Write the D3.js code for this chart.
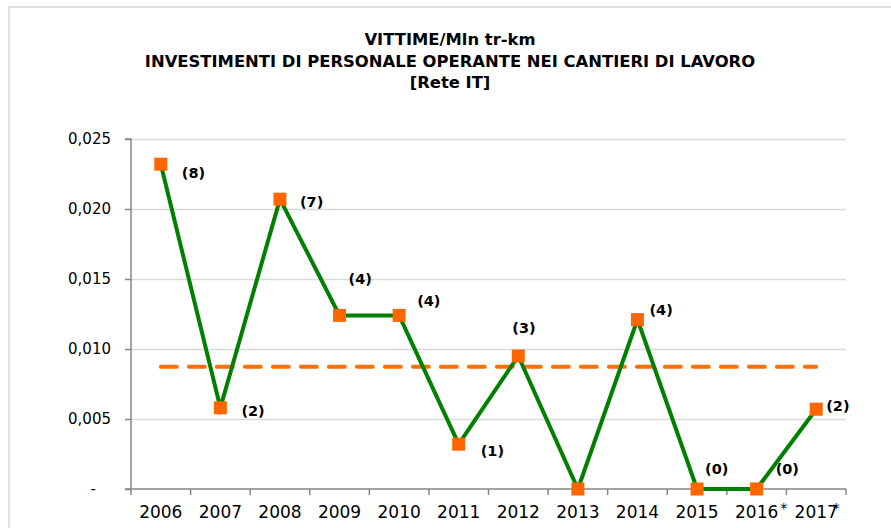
<!DOCTYPE html>
<html>
<head>
<meta charset="utf-8">
<script src="https://cdn.jsdelivr.net/npm/d3@7"></script>
<style>
  body { margin: 0; background: #fff; }
  svg { display: block; }
</style>
</head>
<body>
<div id="chart"></div>
<script>
// data
var years = ["2006", "2007", "2008", "2009", "2010", "2011", "2012", "2013", "2014", "2015", "2016", "2017"]
var starred = ["2016", "2017"]
var rates = [0.0232, 0.0058, 0.0207, 0.0124, 0.0124, 0.0032, 0.0095, 0, 0.0121, 0, 0, 0.0057]
var victims = ["(8)", "(2)", "(7)", "(4)", "(4)", "(1)", "(3)", "", "(4)", "(0)", "(0)", "(2)"]
var average = 0.00873
var yTicks = [0, 0.005, 0.010, 0.015, 0.020, 0.025]
var titleLines = ["VITTIME/Mln tr-km", "INVESTIMENTI DI PERSONALE OPERANTE NEI CANTIERI DI LAVORO", "[Rete IT]"]

// where each label sits relative to its marker
var labelOffsets = [[21, 14], [21, 8], [20, 8], [9, -31], [18, -9], [22, 12], [-6, -23], [0, 0], [12, -5], [8, -15], [19, -15], [10, 2]]

var width = 891
var height = 528
var plotLeft = 131, plotRight = 846, plotTop = 139, plotBottom = 489

var svg = d3.select("#chart")
    .append("svg")
    .attr("width", width)
    .attr("height", height)

// chart frame
svg.append("rect")
    .attr("x", 9)
    .attr("y", 7)
    .attr("width", 900)
    .attr("height", 540)
    .attr("fill", "none")
    .attr("stroke", "#d9d9d9")
    .attr("stroke-width", 1.5)

// title
svg.append("g")
    .selectAll("text")
    .data(titleLines)
    .enter()
    .append("text")
    .attr("x", 450)
    .attr("y", function(d, i) { return 45 + i * 21.5 })
    .attr("text-anchor", "middle")
    .style("font-family", "'DejaVu Sans', sans-serif")
    .style("font-weight", "bold")
    .style("font-size", "16.4px")
    .text(function(d) { return d })

var x = d3.scaleBand()
    .domain(years)
    .range([plotLeft, plotRight])
    .padding(0)

var y = d3.scaleLinear()
    .domain([0, 0.025])
    .range([plotBottom, plotTop])

function cx(year) { return x(year) + x.bandwidth() / 2 }

// gridlines
var grid = svg.append("g")
    .attr("transform", "translate(" + plotLeft + ",0)")
    .call(d3.axisLeft(y).tickValues(yTicks.slice(1)).tickSize(-(plotRight - plotLeft)).tickFormat(""))
grid.select(".domain").remove()
grid.selectAll("line").attr("stroke", "#d9d9d9").attr("stroke-width", 1.5)

// y axis
var yAxis = svg.append("g")
    .attr("transform", "translate(" + plotLeft + ",0)")
    .call(d3.axisLeft(y)
        .tickValues(yTicks)
        .tickSize(6)
        .tickPadding(14)
        .tickFormat(function(d) { return d === 0 ? "-" : d3.format(".3f")(d).replace(".", ",") }))
yAxis.select(".domain").attr("stroke", "#868686").attr("stroke-width", 1.5)
    .attr("d", "M-6," + plotTop + "H0V" + plotBottom)
yAxis.selectAll("line").attr("stroke", "#868686").attr("stroke-width", 1.5)
yAxis.selectAll("text")
    .style("font-family", "'DejaVu Sans', sans-serif")
    .style("font-size", "15px")
    .attr("fill", "#000")
yAxis.selectAll("text").filter(function(d) { return d === 0 }).attr("dx", -15)

// x axis
var xAxis = svg.append("g")
    .attr("transform", "translate(0," + plotBottom + ")")
    .call(d3.axisBottom(x).tickSize(0).tickPadding(17))
xAxis.select(".domain").attr("stroke", "#868686").attr("stroke-width", 1.5)
    .attr("d", "M" + (plotLeft - 6) + ",0H" + plotRight)
xAxis.selectAll("text")
    .style("font-family", "'DejaVu Sans', sans-serif")
    .style("font-size", "17px")
    .attr("fill", "#000")
xAxis.selectAll(".tick")
    .filter(function(d) { return starred.indexOf(d) >= 0 })
    .append("text")
    .attr("x", function(d, i) { return i === 0 ? 27 : 20 })
    .attr("y", 24)
    .attr("fill", "#000")
    .style("font-family", "'DejaVu Sans', sans-serif")
    .style("font-size", "14px")
    .text("*")

// tick marks on the category boundaries
svg.append("g")
    .selectAll("line")
    .data(years.concat(["end"]))
    .enter()
    .append("line")
    .attr("x1", function(d) { return d === "end" ? plotRight : x(d) })
    .attr("x2", function(d) { return d === "end" ? plotRight : x(d) })
    .attr("y1", plotBottom)
    .attr("y2", plotBottom + 6)
    .attr("stroke", "#868686")
    .attr("stroke-width", 1.5)

// average dashed line
svg.append("line")
    .attr("x1", cx(years[0]))
    .attr("x2", cx(years[years.length - 1]))
    .attr("y1", y(average))
    .attr("y2", y(average))
    .attr("stroke", "#ff7000")
    .attr("stroke-width", 4)
    .attr("stroke-linecap", "round")
    .attr("stroke-dasharray", "16,12")

// series line
var line = d3.line()
    .x(function(d, i) { return cx(years[i]) })
    .y(function(d) { return y(d) })

svg.append("path")
    .datum(rates)
    .attr("d", line)
    .attr("fill", "none")
    .attr("stroke", "#008000")
    .attr("stroke-width", 4)

// markers
svg.append("g")
    .selectAll("rect")
    .data(rates)
    .enter()
    .append("rect")
    .attr("x", function(d, i) { return cx(years[i]) - 6.5 })
    .attr("y", function(d) { return y(d) - 6.5 })
    .attr("width", 13)
    .attr("height", 13)
    .attr("fill", "#ff6600")

// victim count labels
svg.append("g")
    .selectAll("text")
    .data(rates)
    .enter()
    .append("text")
    .attr("x", function(d, i) { return cx(years[i]) + labelOffsets[i][0] })
    .attr("y", function(d, i) { return y(d) + labelOffsets[i][1] })
    .style("font-family", "'DejaVu Sans', sans-serif")
    .style("font-weight", "bold")
    .style("font-size", "14.5px")
    .text(function(d, i) { return victims[i] })
</script>
</body>
</html>
